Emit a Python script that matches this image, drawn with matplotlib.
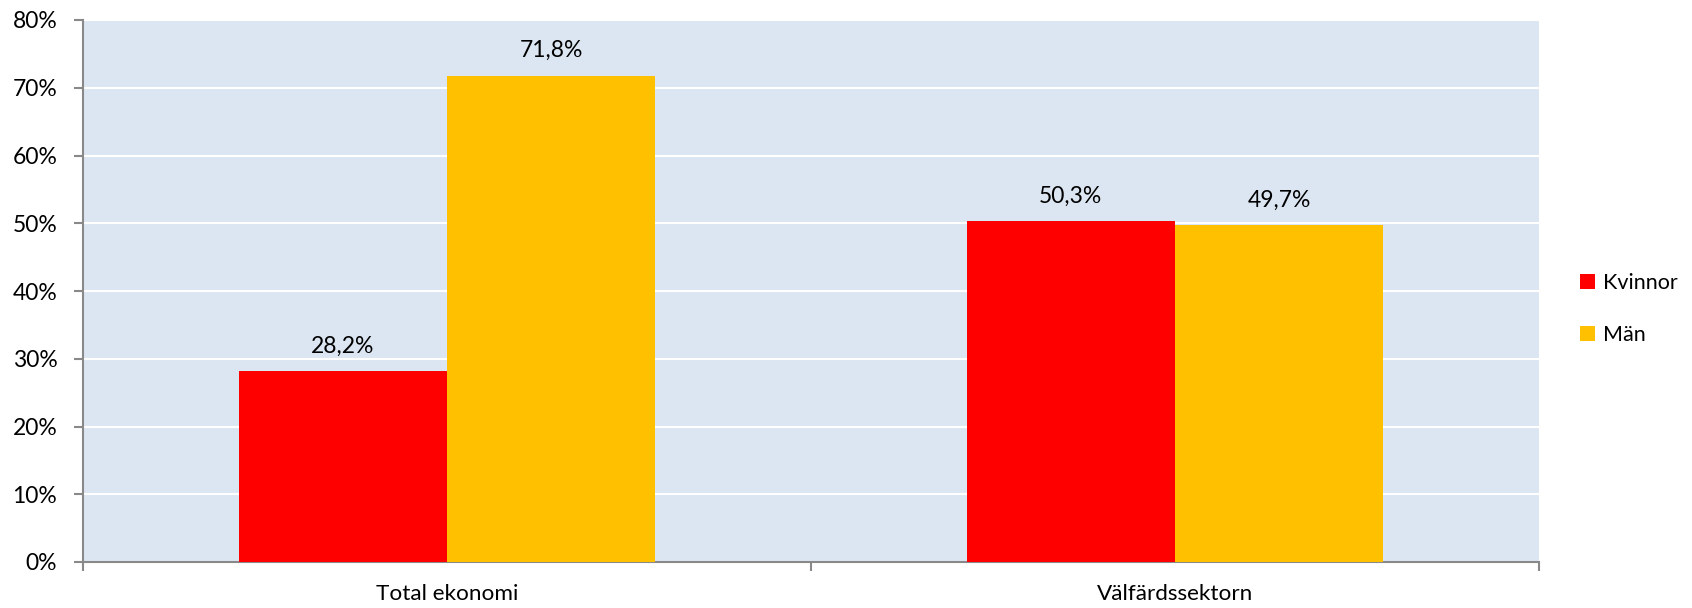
import matplotlib
matplotlib.use("Agg")
import matplotlib.pyplot as plt
import numpy as np

categories = ["Total ekonomi", "Välfärdssektorn"]
series_names = ["Kvinnor", "Män"]
kvinnor = [28.2, 50.3]
man = [71.8, 49.7]
colors = ["#FF0000", "#FFC000"]
yticks = [0, 10, 20, 30, 40, 50, 60, 70, 80]

plt.rcParams['font.family'] = ['Lato', 'DejaVu Sans']

fig = plt.figure(figsize=(16.92, 6.08), dpi=100)
ax = fig.add_axes([83/1692, 1-562/608, (1539-83)/1692, (562-20)/608])
ax.set_facecolor("#DCE6F2")

x = np.arange(len(categories))
w = 0.286
b1 = ax.bar(x - w/2, kvinnor, w, color=colors[0], label=series_names[0], zorder=3)
b2 = ax.bar(x + w/2, man, w, color=colors[1], label=series_names[1], zorder=3)

for bars, vals in [(b1, kvinnor), (b2, man)]:
    for rect, v in zip(bars, vals):
        ax.text(rect.get_x() + rect.get_width()/2, v + 2.7, f"{v:.1f}%".replace(".", ","),
                ha="center", va="baseline", fontsize=16.5, color="black")

ax.set_xlim(-0.5, 1.5)
ax.set_ylim(0, 80)
ax.set_yticks(yticks)
ax.set_yticklabels([f"{t}%" for t in yticks], fontsize=16.5)
ax.yaxis.grid(True, color="white", linewidth=1.5, zorder=1)
ax.set_axisbelow(True)

ax.set_xticks([-0.5, 0.5, 1.5])
ax.set_xticklabels([])
ax.set_xticks(x, minor=True)
ax.set_xticklabels(categories, minor=True, fontsize=16.2)
ax.tick_params(axis='x', which='minor', length=0, pad=16)
ax.tick_params(axis='x', which='major', length=6.5, color="#898989", width=1.5)
ax.tick_params(axis='y', length=6.5, color="#898989", width=1.5, pad=12)

for s in ["top", "right"]:
    ax.spines[s].set_visible(False)
for s in ["left", "bottom"]:
    ax.spines[s].set_color("#898989")
    ax.spines[s].set_linewidth(1.5)

leg = fig.legend(handles=[b1, b2], labels=series_names, loc="center left",
                 bbox_to_anchor=(1580/1692, 1-309/608), frameon=False, fontsize=15.5,
                 borderaxespad=0, borderpad=0,
                 handlelength=0.7, handleheight=0.7, handletextpad=0.35, labelspacing=1.45)

fig.savefig("out.png", dpi=100)
